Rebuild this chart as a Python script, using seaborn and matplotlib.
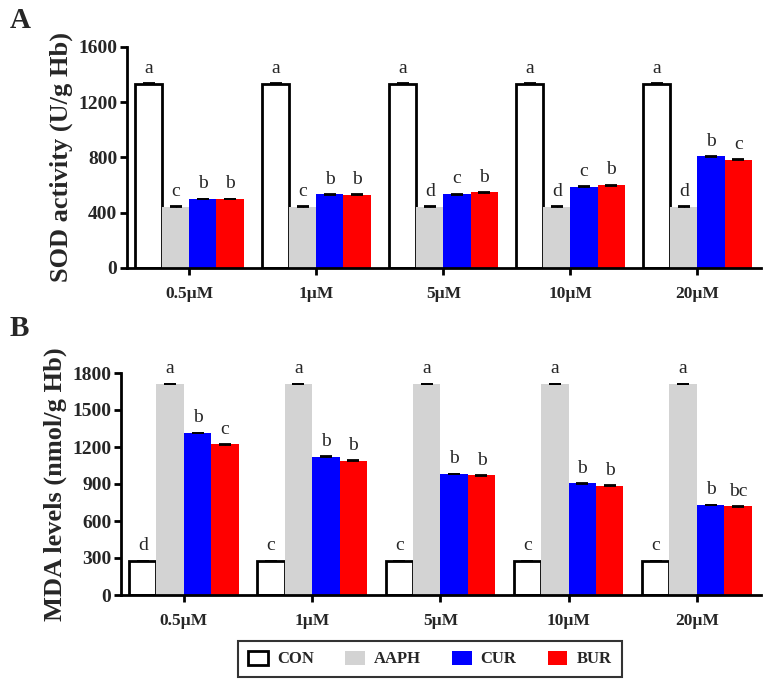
import numpy as np
import pandas as pd
import matplotlib
matplotlib.use("Agg")
import matplotlib.pyplot as plt
import seaborn as sns
from matplotlib.patches import Patch

concentrations = ["0.5\u00b5M", "1\u00b5M", "5\u00b5M", "10\u00b5M", "20\u00b5M"]
groups = ["CON", "AAPH", "CUR", "BUR"]
colors = {"CON": "white", "AAPH": "#d3d3d3", "CUR": "#0000ff", "BUR": "#ff0000"}

# SOD activity (U/g Hb)
sod_con = [1335, 1335, 1335, 1335, 1335]
sod_aaph = [445, 445, 445, 445, 445]
sod_cur = [500, 533, 535, 590, 808]
sod_bur = [500, 530, 548, 600, 784]
sod_err = [3, 3, 3, 3, 3]
sod_letters = {
    "CON": ["a", "a", "a", "a", "a"],
    "AAPH": ["c", "c", "d", "d", "d"],
    "CUR": ["b", "b", "c", "c", "b"],
    "BUR": ["b", "b", "b", "b", "c"],
}

# MDA levels (nmol/g Hb)
mda_con = [276, 276, 276, 276, 276]
mda_aaph = [1711, 1711, 1711, 1711, 1711]
mda_cur = [1314, 1121, 981, 905, 730]
mda_bur = [1221, 1090, 970, 887, 718]
mda_err = [3, 3, 3, 3, 3]
mda_letters = {
    "CON": ["d", "c", "c", "c", "c"],
    "AAPH": ["a", "a", "a", "a", "a"],
    "CUR": ["b", "b", "b", "b", "b"],
    "BUR": ["c", "b", "b", "b", "bc"],
}


def make_df(con, aaph, cur, bur):
    rows = []
    for g, vals in zip(groups, [con, aaph, cur, bur]):
        for c, v in zip(concentrations, vals):
            rows.append({"conc": c, "group": g, "value": v})
    return pd.DataFrame(rows)


sns.set_style("ticks")
plt.rcParams["font.family"] = ["Liberation Serif", "DejaVu Serif"]

fig = plt.figure(figsize=(7.71, 6.87), dpi=100)
W, H = 771, 687
ax_a = fig.add_axes([127 / W, 1 - 268 / H, (761 - 127) / W, (268 - 47) / H])
ax_b = fig.add_axes([121 / W, 1 - 595 / H, (761 - 121) / W, (595 - 373) / H])


def draw_panel(ax, df, err, letters, ylim, yticks, ylabel):
    sns.barplot(data=df, x="conc", y="value", hue="group", order=concentrations,
                hue_order=groups, palette=colors, width=0.855, errorbar=None,
                linewidth=0, ax=ax, legend=False, saturation=1)
    for i, g in enumerate(groups):
        bars = ax.patches[i * len(concentrations):(i + 1) * len(concentrations)]
        for j, p in enumerate(bars):
            if g == "CON":
                p.set_edgecolor("black")
                p.set_linewidth(2)
            xc = p.get_x() + p.get_width() / 2
            top = p.get_height()
            ax.errorbar(xc, top, yerr=err[j], color="black", capsize=4.5,
                        capthick=1.3, elinewidth=1)
            ax.text(xc, top + (ylim[1] * 0.03), letters[g][j], ha="center",
                    va="bottom", fontsize=14)
    ax.set_xlim(-0.49, 4.5)
    ax.set_ylim(*ylim)
    ax.set_yticks(yticks)
    ax.set_xlabel("")
    ax.set_ylabel(ylabel, fontsize=19, fontweight="bold", labelpad=4)
    for lab in ax.get_xticklabels():
        lab.set_fontweight("bold")
        lab.set_fontsize(12.5)
    for lab in ax.get_yticklabels():
        lab.set_fontweight("bold")
        lab.set_fontsize(14)
    ax.tick_params(axis="both", width=2, length=5, color="black")
    ax.tick_params(axis="x", pad=8)
    ax.tick_params(axis="y", pad=2)
    for s in ["left", "bottom"]:
        ax.spines[s].set_linewidth(2)
        ax.spines[s].set_color("black")
    sns.despine(ax=ax)


draw_panel(ax_a, make_df(sod_con, sod_aaph, sod_cur, sod_bur), sod_err,
           sod_letters, (0, 1600), [0, 400, 800, 1200, 1600],
           "SOD activity (U/g Hb)")
draw_panel(ax_b, make_df(mda_con, mda_aaph, mda_cur, mda_bur), mda_err,
           mda_letters, (0, 1800), [0, 300, 600, 900, 1200, 1500, 1800],
           "MDA levels (nmol/g Hb)")

fig.text(10 / W, 1 - 21 / H, "A", fontsize=21, fontweight="bold", va="center")
fig.text(10 / W, 1 - 329 / H, "B", fontsize=21, fontweight="bold", va="center")

handles = [Patch(facecolor=colors[g], edgecolor="black" if g == "CON" else colors[g],
                 linewidth=2 if g == "CON" else 0, label=g) for g in groups]
leg = fig.legend(handles=handles, loc="center", bbox_to_anchor=(430 / W, 1 - 659 / H),
                 ncol=4, frameon=True, fancybox=False, edgecolor="black",
                 prop={"weight": "bold", "size": 12}, handlelength=1.15,
                 handleheight=0.9, columnspacing=1.9, handletextpad=0.55,
                 borderpad=0.6, borderaxespad=0)
leg.get_frame().set_linewidth(1.5)

fig.savefig("out.png", dpi=100)
